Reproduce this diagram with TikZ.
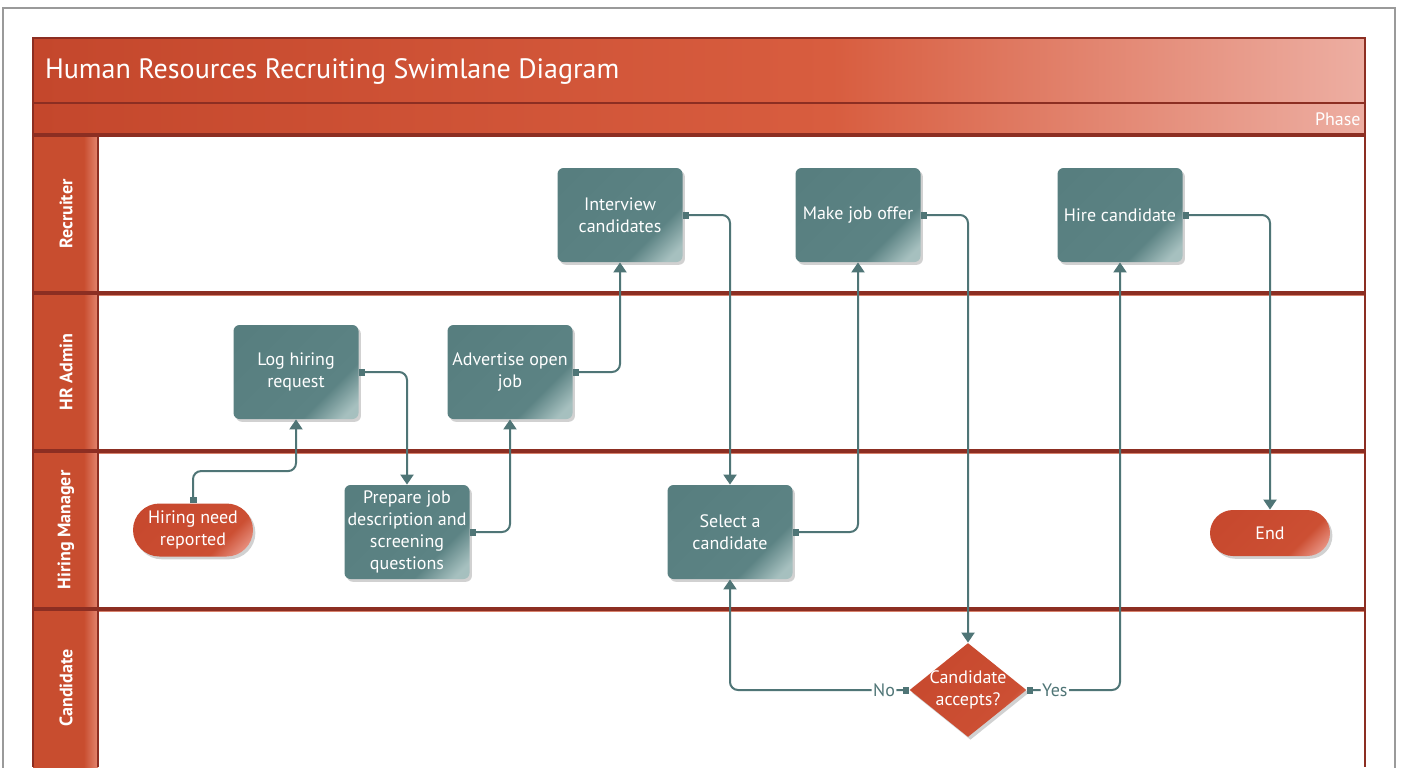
\documentclass[tikz,border=0pt]{standalone}
\usepackage{fontspec}
\setmainfont{PT Sans}
\usetikzlibrary{calc, positioning, shapes, arrows.meta, shadows}

\definecolor{framegray}{HTML}{9A9A9A}
\definecolor{hrred}{HTML}{C4472C}
\definecolor{hrredmid}{HTML}{D85D3F}
\definecolor{hrpink}{HTML}{EDAEA2}
\definecolor{lanered}{HTML}{C84D2F}
\definecolor{lanelight}{HTML}{E48670}
\definecolor{sepdark}{HTML}{8C2E22}
\definecolor{tealdark}{HTML}{557C7D}
\definecolor{tealmid}{HTML}{5C8384}
\definecolor{teallight}{HTML}{A6C0BF}
\definecolor{reddark}{HTML}{C4452B}
\definecolor{redmid}{HTML}{CC4F33}
\definecolor{redlight}{HTML}{E99484}
\definecolor{flowteal}{HTML}{4F7576}

% shadings for bars and boxes
\pgfdeclarehorizontalshading{titlebar}{100bp}{color(0bp)=(hrred); color(25bp)=(hrred); color(55bp)=(hrredmid); color(75bp)=(hrpink); color(100bp)=(hrpink)}
\pgfdeclarehorizontalshading{lanehead}{100bp}{color(0bp)=(lanered); color(25bp)=(lanered); color(64bp)=(lanered); color(75bp)=(lanelight); color(100bp)=(lanelight)}
\pgfdeclareverticalshading{tealbox}{100bp}{color(0bp)=(teallight); color(20bp)=(teallight); color(33bp)=(tealmid); color(100bp)=(tealdark)}
\pgfdeclareverticalshading{redbox}{100bp}{color(0bp)=(redlight); color(20bp)=(redlight); color(33bp)=(redmid); color(100bp)=(reddark)}

\tikzset{
    boxfont/.style={font=\fontsize{9}{11}\selectfont},
    softshadow/.style={drop shadow={shadow xshift=1.2pt, shadow yshift=-1.4pt, fill=black, opacity=0.18}},
    box/.style={rectangle, rounded corners=3pt, shading=tealbox, shading angle=45, minimum width=62.5pt, minimum height=47pt, inner sep=1pt, text=white, align=center, boxfont, softshadow},
    term/.style={rounded rectangle, shading=redbox, shading angle=45, minimum width=62pt, inner sep=1pt, text=white, align=center, boxfont, softshadow},
    decision/.style={diamond, aspect=1.25, shading=redbox, shading angle=45, minimum width=58.5pt, minimum height=47pt, inner sep=-3.5pt, text=white, align=center, boxfont, softshadow},
    flow/.style={draw=flowteal, line width=1pt, rounded corners=4pt, arrows={Square[length=3pt,width=3.5pt]-Triangle[length=5pt,width=6.5pt]}},
    lbl/.style={fill=white, inner sep=0.8pt, text=flowteal, boxfont},
    lanetext/.style={rotate=90, text=white, font=\bfseries\fontsize{9}{10}\selectfont},
    lanesep/.style={draw=sepdark, line width=1.6pt}
}

\begin{document}
\begin{tikzpicture}[x=0.5pt, y=-0.5pt]
        \useasboundingbox (0,0) rectangle (1403,767);
        \clip (0,0) rectangle (1403,767);
        \fill[white] (0,0) rectangle (1403,767);
        \draw[framegray, line width=0.6pt] (3,8) rectangle (1395,800);

        %pool header
        
        \shade[shading=titlebar] (33,38) rectangle (1365,103);
        \shade[shading=titlebar] (33,103) rectangle (1365,135);
        \draw[sepdark, line width=1pt] (33,38) rectangle (1365,135);
        \draw[sepdark, line width=1.4pt] (33,103) -- (1365,103);
        \node(title)[anchor=west, text=white, font=\fontsize{14}{17}\selectfont] at (38,71) {Human Resources Recruiting Swimlane Diagram};
        \node(phase)[anchor=east, text=white, inner sep=1pt, boxfont] at (1363,119) {Phase};
        
        %lanes
        
        \shade[shading=lanehead] (33,135) rectangle (98,293);
        \shade[shading=lanehead] (33,293) rectangle (98,451);
        \shade[shading=lanehead] (33,451) rectangle (98,609);
        \shade[shading=lanehead] (33,609) rectangle (98,767);
        \node(recruiter)[lanetext] at (66,214) {Recruiter};
        \node(hradmin)[lanetext] at (66,372) {HR Admin};
        \node(manager)[lanetext] at (66,530) {Hiring Manager};
        \node(candidate)[lanetext] at (66,688) {Candidate};
        \draw[lanesep] (33,135) -- (1365,135);
        \draw[lanesep] (33,293) -- (1365,293);
        \draw[lanesep] (33,451) -- (1365,451);
        \draw[lanesep] (33,609) -- (1365,609);
        \draw[lanered!70, line width=0.5pt] (98,295) -- (1365,295);
        \draw[lanered!70, line width=0.5pt] (98,453) -- (1365,453);
        \draw[lanered!70, line width=0.5pt] (98,611) -- (1365,611);
        \draw[sepdark, line width=0.8pt] (98,135) -- (98,767);
        \draw[sepdark, line width=1.2pt] (1365,38) -- (1365,767);
        \draw[sepdark, line width=1pt] (33,38) -- (33,767);
        
        %nodes
        
        \node(int)[box] at (620,215) {Interview\\candidates};
        \node(offer)[box] at (858,215) {Make job offer};
        \node(hire)[box] at (1120,215) {Hire candidate};
        \node(log)[box] at (296,372) {Log hiring\\request};
        \node(adv)[box] at (510,372) {Advertise open\\job};
        \node(prep)[box] at (407,532) {Prepare job\\description and\\screening\\questions};
        \node(sel)[box] at (730,532) {Select a\\candidate};
        \node(need)[term, minimum height=26.5pt] at (193,530) {Hiring need\\reported};
        \node(end)[term, minimum height=23pt] at (1270,533) {End};
        \node(dia)[decision] at (968,690) {Candidate\\accepts?};
        
        %arrows
        
        \draw[flow] (need.north) -- ++(0,-32) -| (log.south);
        \draw[flow] (log.east) -| (prep.north);
        \draw[flow] (prep.east) -| (adv.south);
        \draw[flow] (adv.east) -| (int.south);
        \draw[flow] (int.east) -| (sel.north);
        \draw[flow] (sel.east) -| (offer.south);
        \draw[flow] (offer.east) -| (dia.north);
        \draw[flow] (dia.west) -| node[lbl, pos=0.07] {No} (sel.south);
        \draw[flow] (dia.east) -| node[lbl, pos=0.15] {Yes} (hire.south);
        \draw[flow] (hire.east) -| (end.north);
    \end{tikzpicture}
\end{document}
